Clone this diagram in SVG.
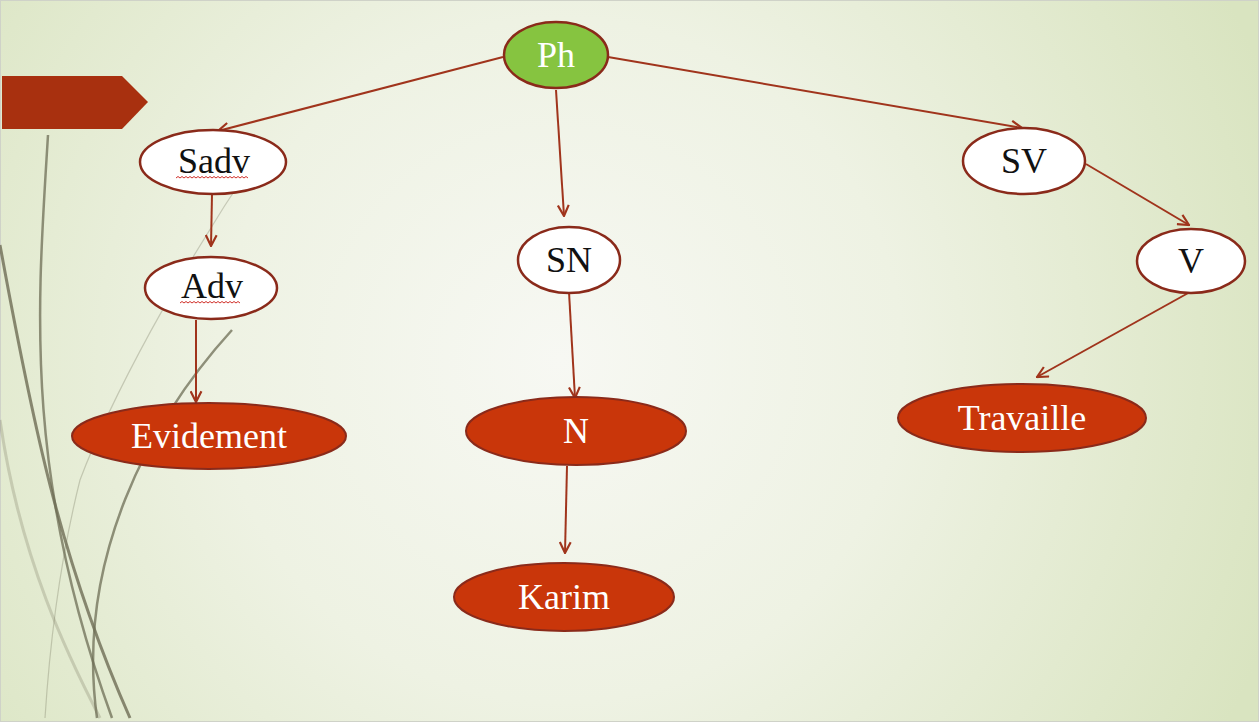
<svg xmlns="http://www.w3.org/2000/svg" width="1259" height="722" viewBox="0 0 1259 722">
<defs>
<radialGradient id="bg" cx="560" cy="360" r="760" gradientUnits="userSpaceOnUse">
<stop offset="0" stop-color="#f7f8f3"/>
<stop offset="0.45" stop-color="#eef2e3"/>
<stop offset="1" stop-color="#d9e4c0"/>
</radialGradient>
<marker id="arr" viewBox="0 0 12 12" refX="11" refY="6" markerWidth="13" markerHeight="13" markerUnits="userSpaceOnUse" orient="auto">
<path d="M1,1 L11,6 L1,11" fill="none" stroke="#a0341c" stroke-width="2"/>
</marker>
<style>
.edge{stroke:#a0341c;stroke-width:2;fill:none;marker-end:url(#arr)}
.wn{fill:#ffffff;stroke:#8a2a1a;stroke-width:2.5}
.rn{fill:#c9360a;stroke:#8a2a1a;stroke-width:2}
.gn{fill:#86c440;stroke:#8a2a1a;stroke-width:2.5}
.tb{font-family:"Liberation Serif","Times New Roman",serif;font-size:36px;fill:#111;text-anchor:middle}
.tw{font-family:"Liberation Serif","Times New Roman",serif;font-size:36px;fill:#ffffff;text-anchor:middle}
.sq{fill:none;stroke:#d0302a;stroke-width:1}
.deco{fill:none;stroke:#6e6d55}
</style>
</defs>
<rect x="0" y="0" width="1259" height="722" fill="url(#bg)"/>
<rect x="0.5" y="0.5" width="1258" height="721" fill="none" stroke="#cfd2c8"/>
<g id="decoration">
<path class="deco" d="M258,155 C180,270 110,400 80,480 C60,560 50,640 45,718" stroke-width="1.2" opacity="0.3"/>
<path class="deco" d="M0,420 C20,560 70,660 100,718" stroke-width="3" opacity="0.25"/>
<path class="deco" d="M48,135 C38,300 22,470 112,718" stroke-width="2.5" opacity="0.75"/>
<path class="deco" d="M0,245 C32,420 60,560 130,718" stroke-width="3" opacity="0.8"/>
<path class="deco" d="M232,330 C150,420 75,560 97,718" stroke-width="2.5" opacity="0.75"/>
<polygon points="2,76 122,76 148,102 122,129 2,129" fill="#a8300f"/>
</g>
<g id="connectors">
<line class="edge" x1="503" y1="57" x2="218" y2="131"/>
<line class="edge" x1="556" y1="90" x2="564" y2="216"/>
<line class="edge" x1="608" y1="57" x2="1022" y2="128"/>
<line class="edge" x1="212" y1="194" x2="211" y2="246"/>
<line class="edge" x1="196" y1="320" x2="196" y2="402"/>
<line class="edge" x1="569" y1="292" x2="575" y2="398"/>
<line class="edge" x1="567" y1="466" x2="565" y2="553"/>
<line class="edge" x1="1086" y1="164" x2="1189" y2="225"/>
<line class="edge" x1="1190" y1="292" x2="1037" y2="377"/>
</g>
<g id="node-ph">
<ellipse class="gn" cx="556" cy="55" rx="52" ry="33"/>
<text class="tw" x="556" y="67">Ph</text>
</g>
<g id="node-sadv">
<ellipse class="wn" cx="213" cy="162" rx="73" ry="32"/>
<text class="tb" x="214" y="173">Sadv</text>
<path class="sq" d="M176,178 l2,-1.5 l2,1.5 l2,-1.5 l2,1.5 l2,-1.5 l2,1.5 l2,-1.5 l2,1.5 l2,-1.5 l2,1.5 l2,-1.5 l2,1.5 l2,-1.5 l2,1.5 l2,-1.5 l2,1.5 l2,-1.5 l2,1.5 l2,-1.5 l2,1.5 l2,-1.5 l2,1.5 l2,-1.5 l2,1.5 l2,-1.5 l2,1.5 l2,-1.5 l2,1.5 l2,-1.5 l2,1.5 l2,-1.5 l2,1.5 l2,-1.5 l2,1.5 l2,-1.5 l2,1.5"/>
</g>
<g id="node-adv">
<ellipse class="wn" cx="211" cy="288" rx="66" ry="31"/>
<text class="tb" x="212" y="298">Adv</text>
<path class="sq" d="M180,303 l2,-1.5 l2,1.5 l2,-1.5 l2,1.5 l2,-1.5 l2,1.5 l2,-1.5 l2,1.5 l2,-1.5 l2,1.5 l2,-1.5 l2,1.5 l2,-1.5 l2,1.5 l2,-1.5 l2,1.5 l2,-1.5 l2,1.5 l2,-1.5 l2,1.5 l2,-1.5 l2,1.5 l2,-1.5 l2,1.5 l2,-1.5 l2,1.5 l2,-1.5 l2,1.5 l2,-1.5 l2,1.5"/>
</g>
<g id="node-evidement">
<ellipse class="rn" cx="209" cy="436" rx="137" ry="33"/>
<text class="tw" x="209" y="448">Evidement</text>
</g>
<g id="node-sn">
<ellipse class="wn" cx="569" cy="260" rx="51" ry="33"/>
<text class="tb" x="569" y="272">SN</text>
</g>
<g id="node-n">
<ellipse class="rn" cx="576" cy="431" rx="110" ry="34"/>
<text class="tw" x="576" y="443">N</text>
</g>
<g id="node-karim">
<ellipse class="rn" cx="564" cy="597" rx="110" ry="34"/>
<text class="tw" x="564" y="609">Karim</text>
</g>
<g id="node-sv">
<ellipse class="wn" cx="1024" cy="161" rx="61" ry="33"/>
<text class="tb" x="1024" y="173">SV</text>
</g>
<g id="node-v">
<ellipse class="wn" cx="1191" cy="261" rx="54" ry="32"/>
<text class="tb" x="1191" y="273">V</text>
</g>
<g id="node-travaille">
<ellipse class="rn" cx="1022" cy="418" rx="124" ry="34"/>
<text class="tw" x="1022" y="430">Travaille</text>
</g>
</svg>
